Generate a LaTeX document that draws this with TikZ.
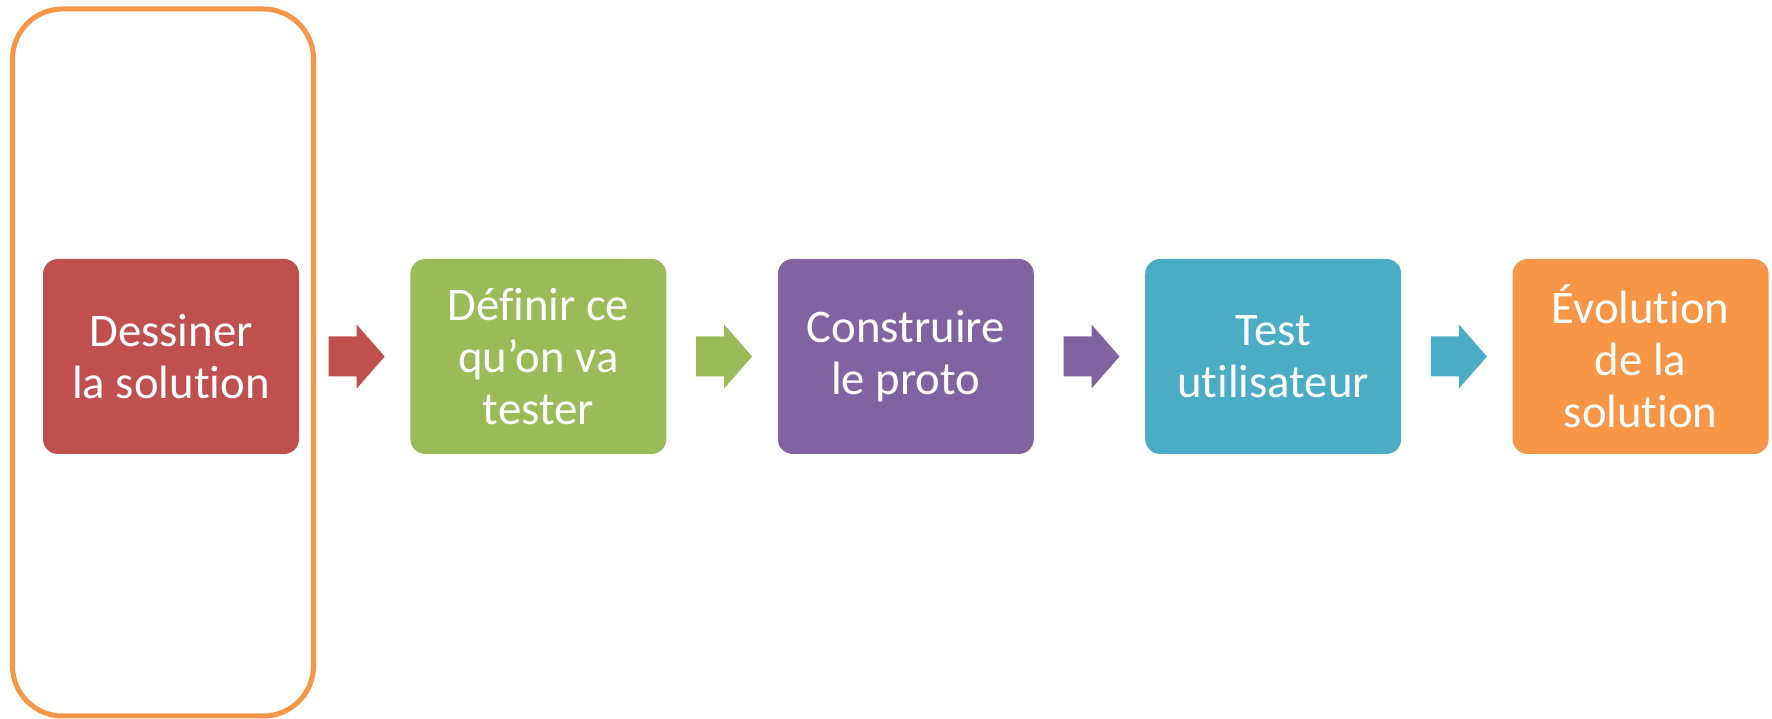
\documentclass[tikz,border=0pt]{standalone}
\usepackage{fontspec}
\setmainfont[RawFeature={-liga;-clig}]{Carlito}
\usepackage{tikz}
\usetikzlibrary{calc,positioning}
\definecolor{redc}{HTML}{C0504D}
\definecolor{greenc}{HTML}{9BBB59}
\definecolor{purplec}{HTML}{8064A2}
\definecolor{bluec}{HTML}{4BACC6}
\definecolor{orangec}{HTML}{F79646}
\def\fatarrow[#1](#2)(#3){\fill[#1] ($(#2.east)+(0.29,0.2)$) -- ++(0.28,0) -- ++(0,0.12) -- ++(0.28,-0.32) -- ++(-0.28,-0.32) -- ++(0,0.12) -- ++(-0.28,0) -- cycle;}
\tikzset{stepbox/.style={rounded corners=0.15cm, minimum width=2.56cm, minimum height=1.95cm, inner sep=0pt, text=white, align=center, font=\fontsize{13.3}{14.8}\selectfont}}

\begin{document}
\begin{tikzpicture}
		%%%%% START %%%%%
		
		\useasboundingbox (0, 0) rectangle (17.72, 7.19);
		
		\draw[line width=0.05cm, color=orangec, rounded corners=0.5cm] (0.125, 7.10) rectangle (3.135, 0.03);
		
		\node[stepbox, fill=redc] (dessiner) at (1.71, 3.625) {Dessiner\\la solution};
		\node[stepbox, fill=greenc, right=1.1cm of dessiner] (definir) {Définir ce\\qu’on va\\tester};
		\node[stepbox, fill=purplec, right=1.1cm of definir] (construire) {Construire\\le proto};
		\node[stepbox, fill=bluec, right=1.1cm of construire] (test) {Test\\utilisateur};
		\node[stepbox, fill=orangec, right=1.1cm of test] (evolution) {Évolution\\de la\\solution};
		
		\fatarrow[redc](dessiner)(definir)
		\fatarrow[greenc](definir)(construire)
		\fatarrow[purplec](construire)(test)
		\fatarrow[bluec](test)(evolution)
		
		%%%%% END %%%%%
	\end{tikzpicture}
\end{document}
